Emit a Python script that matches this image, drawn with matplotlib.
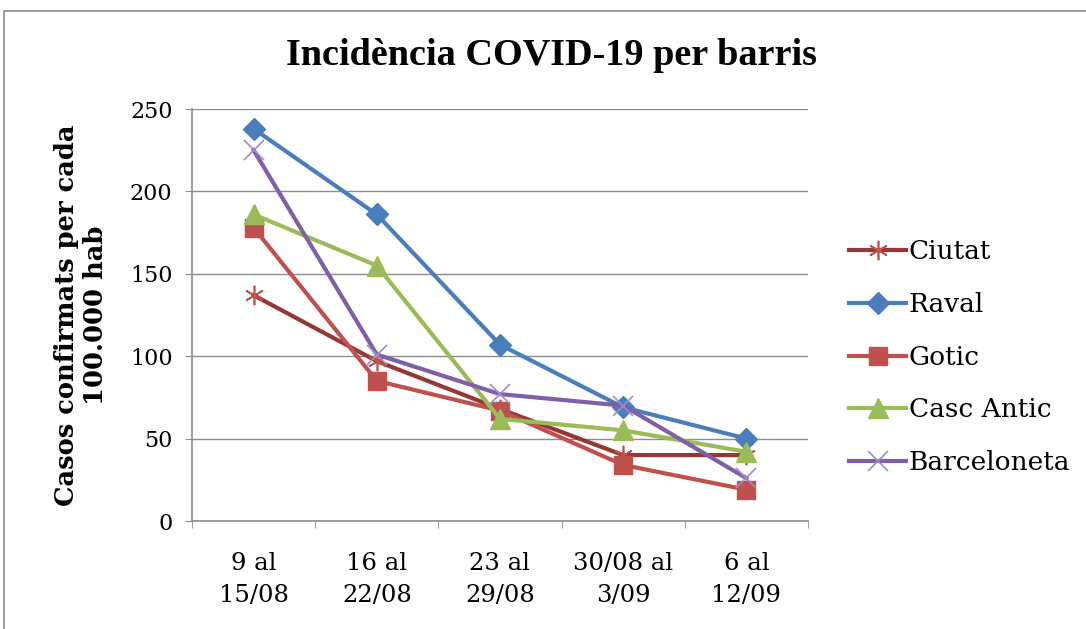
import matplotlib.pyplot as plt
from matplotlib.patches import Rectangle

# setmanes i valors (casos per 100.000 hab)
setmanes = ["9 al\n15/08", "16 al\n22/08", "23 al\n29/08", "30/08 al\n3/09", "6 al\n12/09"]
ciutat = [137, 97, 68, 40, 40]
raval = [238, 186, 107, 69, 50]
gotic = [178, 85, 67, 34, 19]
casc_antic = [186, 155, 62, 55, 42]
barceloneta = [225, 101, 77, 70, 26]

plt.rcParams['font.family'] = ['DejaVu Serif']

fig = plt.figure(figsize=(10.86, 6.29), dpi=100)
fig.patches.append(Rectangle((0.004, -0.01), 1.2, 0.992, transform=fig.transFigure,
                             fill=False, edgecolor='#8c8c8c', lw=1.2))

ax = fig.add_axes([0.1768, 0.1717, 0.5672, 0.655])
x = list(range(len(setmanes)))

ax.plot(x, ciutat, color='#953735', lw=3, marker=(6, 2, 0), ms=14, mew=1.2,
        mec='#c0504d', label='Ciutat', zorder=3)
ax.plot(x, raval, color='#4a7ebb', lw=3, marker='D', ms=11, label='Raval', zorder=3)
ax.plot(x, gotic, color='#c0504d', lw=3, marker='s', ms=13, label='Gotic', zorder=3)
ax.plot(x, casc_antic, color='#9bbb59', lw=3, marker='^', ms=14, label='Casc Antic', zorder=3)
ax.plot(x, barceloneta, color='#7f5fa5', lw=3, marker='x', ms=14, mew=1.2,
        mec='#a08cc8', label='Barceloneta', zorder=3)

ax.set_xlim(-0.5, len(setmanes) - 0.5)
ax.set_ylim(0, 250)
ax.set_yticks([0, 50, 100, 150, 200, 250])
ax.set_xticks(x)
ax.set_xticklabels(setmanes, fontsize=17.5, linespacing=1.55)
ax.set_xticks([i - 0.5 for i in range(len(setmanes) + 1)], minor=True)
ax.tick_params(axis='x', which='major', length=0, pad=22)
ax.tick_params(axis='x', which='minor', length=5, color='#8c8c8c', direction='out')
ax.tick_params(axis='y', length=5, color='#8c8c8c', labelsize=16, pad=9)
ax.grid(axis='y', color='#8c8c8c', lw=1)
ax.set_axisbelow(True)
for s in ['top', 'right']:
    ax.spines[s].set_visible(False)
for s in ['left', 'bottom']:
    ax.spines[s].set_color('#8c8c8c')
    ax.spines[s].set_linewidth(1.2)

ax.set_ylabel("Casos confirmats per cada\n100.000 hab", fontsize=18.5, fontweight='bold',
              labelpad=16)
fig.text(0.508, 0.912, "Incidència COVID-19 per barris", ha='center', va='center',
         fontsize=27.5, fontweight='bold', family='Liberation Serif')

fig.legend(*ax.get_legend_handles_labels(), loc='center left',
           bbox_to_anchor=(0.770, 0.432), frameon=False, fontsize=19, borderpad=0,
           handlelength=2.15, handletextpad=0.1, labelspacing=1.05)

plt.savefig("out.png", dpi=100)
